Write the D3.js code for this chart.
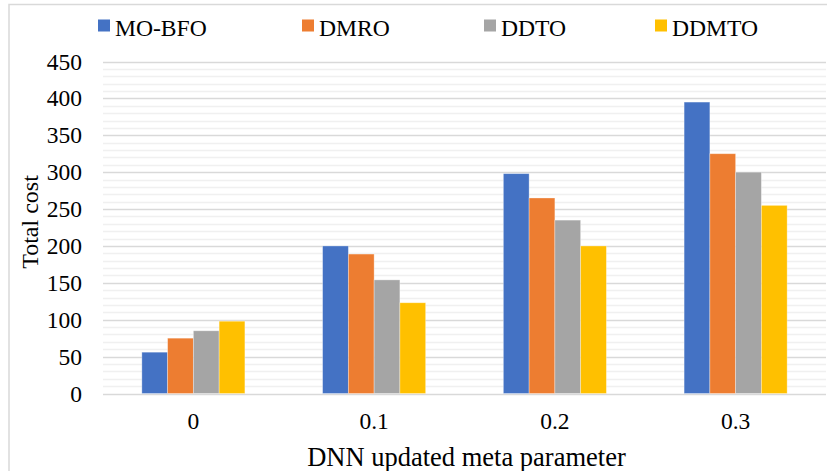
<!DOCTYPE html>
<html>
<head>
<meta charset="utf-8">
<script src="https://cdn.jsdelivr.net/npm/d3@7"></script>
<style>
  html, body { margin: 0; padding: 0; background: #fff; }
  svg { display: block; font-family: "Liberation Serif", "Times New Roman", serif; }
</style>
</head>
<body>
<svg id="chart" width="827" height="471"></svg>
<script>
// Categories (x axis) and series
const categories = ["0", "0.1", "0.2", "0.3"];
const seriesNames = ["MO-BFO", "DMRO", "DDTO", "DDMTO"];
const seriesColors = ["#4472C4", "#ED7D31", "#A5A5A5", "#FFC000"];

const moBfo = [56, 200, 298, 395];
const dmro  = [75, 189, 265, 325];
const ddto  = [85, 154, 235, 300];
const ddmto = [98, 123, 200, 255];
const seriesValues = [moBfo, dmro, ddto, ddmto];

const yTicks = [0, 50, 100, 150, 200, 250, 300, 350, 400, 450];
const yMinorTicks = d3.range(0, 451, 10);

const FONT = "'Liberation Serif', 'Times New Roman', serif";
const svg = d3.select("#chart");
const W = 827, H = 471;
const plot = { left: 103, right: 826, top: 61.5, bottom: 393.5 };

// Outer chart border
svg.append("rect")
  .attr("x", 9).attr("y", 4.5)
  .attr("width", W + 10).attr("height", H + 10)
  .attr("fill", "none").attr("stroke", "#d9d9d9").attr("stroke-width", 1.5);

const x = d3.scaleBand()
  .domain(categories)
  .range([plot.left, plot.right])
  .paddingInner(0.43)
  .paddingOuter(0.215);

const xSub = d3.scaleBand()
  .domain(seriesNames)
  .range([0, x.bandwidth()]);

const y = d3.scaleLinear()
  .domain([0, 450])
  .range([plot.bottom, plot.top]);

// Minor gridlines
svg.append("g")
  .selectAll("line")
  .data(yMinorTicks.filter(v => v % 50 !== 0))
  .join("line")
  .attr("x1", plot.left).attr("x2", plot.right)
  .attr("y1", d => Math.round(y(d)) + 0.5).attr("y2", d => Math.round(y(d)) + 0.5)
  .attr("stroke", "#f0f0f0").attr("stroke-width", 1.5);

// Major gridlines
svg.append("g")
  .selectAll("line")
  .data(yTicks)
  .join("line")
  .attr("x1", plot.left).attr("x2", plot.right)
  .attr("y1", d => Math.round(y(d)) + 0.5).attr("y2", d => Math.round(y(d)) + 0.5)
  .attr("stroke", "#d9d9d9").attr("stroke-width", 1.5);

// Y axis labels
const yAxis = d3.axisLeft(y).tickValues(yTicks).tickSize(0).tickPadding(0);
const gy = svg.append("g")
  .attr("transform", `translate(82,0)`)
  .call(yAxis);
gy.select(".domain").remove();
gy.selectAll("text")
  .style("font-family", FONT)
  .attr("font-size", 23.5)
  .attr("fill", "#000");

// X axis labels
const xAxis = d3.axisBottom(x).tickSize(0).tickPadding(0);
const gx = svg.append("g")
  .attr("transform", `translate(0,${plot.bottom + 19})`)
  .call(xAxis);
gx.select(".domain").remove();
gx.selectAll("text")
  .style("font-family", FONT)
  .attr("font-size", 23.5)
  .attr("fill", "#000");

// Bars
const groups = svg.append("g")
  .selectAll("g")
  .data(categories)
  .join("g")
  .attr("transform", d => `translate(${x(d)},0)`);

groups.selectAll("rect")
  .data((c, i) => seriesNames.map((s, k) => ({ s, k, v: seriesValues[k][i] })))
  .join("rect")
  .attr("x", d => xSub(d.s))
  .attr("width", xSub.bandwidth())
  .attr("y", d => y(d.v))
  .attr("height", d => y(0) - y(d.v))
  .attr("fill", d => seriesColors[d.k])
  .attr("stroke", "#ffffff")
  .attr("stroke-opacity", 0.4)
  .attr("stroke-width", 0.8);

// Axis titles
svg.append("text")
  .attr("x", (plot.left + plot.right) / 2 + 2)
  .attr("y", 465.5)
  .attr("text-anchor", "middle")
  .style("font-family", FONT)
  .attr("font-size", 26.5)
  .attr("fill", "#000")
  .text("DNN updated meta parameter");

svg.append("text")
  .attr("transform", `translate(38,222) rotate(-90)`)
  .attr("text-anchor", "middle")
  .style("font-family", FONT)
  .attr("font-size", 24)
  .attr("fill", "#000")
  .text("Total cost");

// Legend
const legendX = [98, 302, 484, 655];
const legend = svg.append("g")
  .selectAll("g")
  .data(seriesNames)
  .join("g")
  .attr("transform", (d, i) => `translate(${legendX[i]},0)`);
legend.append("rect")
  .attr("x", 0).attr("y", 19.5)
  .attr("width", 12).attr("height", 12)
  .attr("fill", (d, i) => seriesColors[i]);
legend.append("text")
  .attr("x", 17).attr("y", 36)
  .style("font-family", FONT)
  .attr("font-size", 23.6)
  .attr("fill", "#000")
  .text(d => d);
</script>
</body>
</html>
